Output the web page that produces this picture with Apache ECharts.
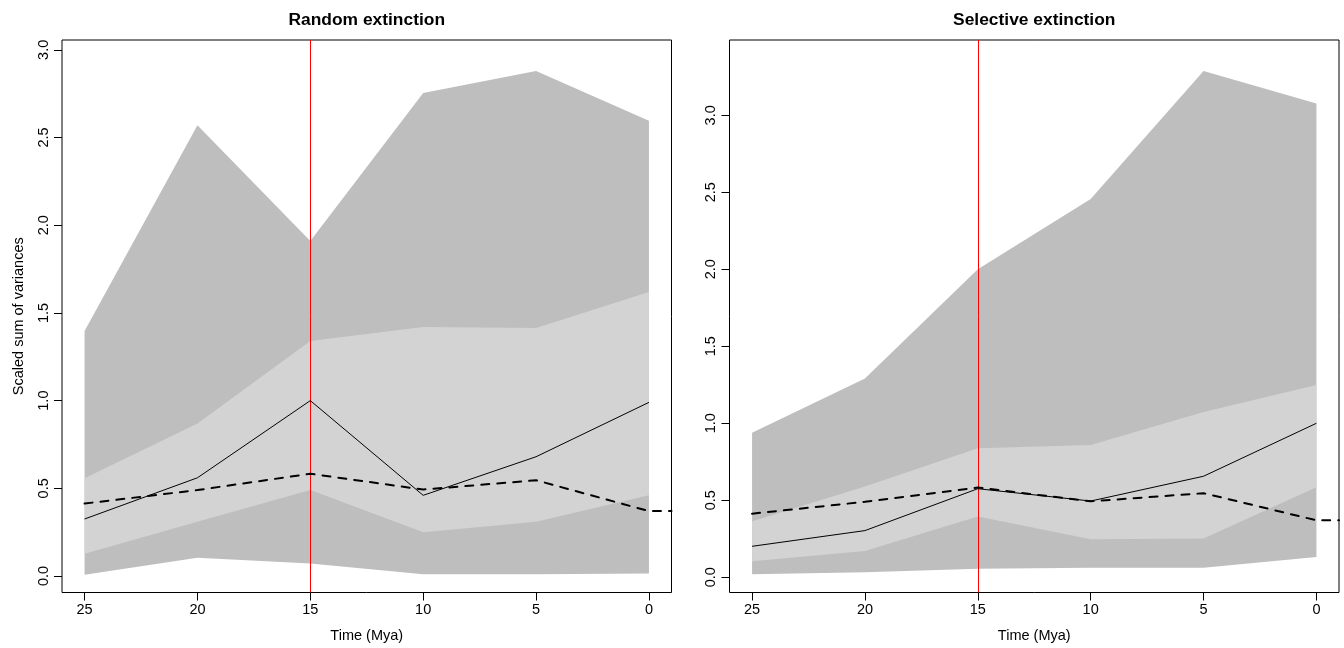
<!DOCTYPE html>
<html><head><meta charset="utf-8">
<script src="https://cdn.jsdelivr.net/npm/echarts@6/dist/echarts.min.js"></script>
<style>html,body{margin:0;padding:0;background:#fff}#c{width:1344px;height:648px}</style>
</head><body><div id="c"></div><script>
// ---- data ----
const times = [25, 20, 15, 10, 5, 0];
const timeTicks = [25, 20, 15, 10, 5, 0];
const yTicks = [0, 0.5, 1, 1.5, 2, 2.5, 3];
const panelTitles = ['Random extinction', 'Selective extinction'];
const xTitle = 'Time (Mya)';
const yTitle = 'Scaled sum of variances';
const extinctionTime = 15;

const randomOuterLow  = [0.007, 0.104, 0.072, 0.010, 0.010, 0.015];
const randomOuterHigh = [1.397, 2.570, 1.910, 2.754, 2.879, 2.596];
const randomInnerLow  = [0.127, 0.310, 0.490, 0.250, 0.310, 0.460];
const randomInnerHigh = [0.557, 0.870, 1.340, 1.420, 1.414, 1.619];
const randomObserved  = [0.325, 0.560, 1.000, 0.460, 0.680, 0.990];

const selectiveOuterLow  = [0.019, 0.032, 0.056, 0.062, 0.062, 0.132];
const selectiveOuterHigh = [0.939, 1.290, 2.000, 2.457, 3.288, 3.076];
const selectiveInnerLow  = [0.104, 0.171, 0.394, 0.247, 0.251, 0.584];
const selectiveInnerHigh = [0.364, 0.589, 0.838, 0.859, 1.073, 1.249];
const selectiveObserved  = [0.201, 0.303, 0.575, 0.495, 0.656, 1.000];

const expectedTimes  = [25, 20, 15, 10, 5, 0, -1];
const expectedValues = [0.413, 0.490, 0.583, 0.493, 0.546, 0.370, 0.370];

// ---- layout / style ----
const FONT = 'Liberation Sans, Arial, Helvetica, sans-serif';
const grids = [
  {left: 62, top: 40, width: 609.5, height: 552.5},
  {left: 729.5, top: 40, width: 609.5, height: 552.5}
];
const yRanges = [[-0.094, 3.056], [-0.099, 3.489]];
const DARK = '#bebebe', LIGHT = '#d3d3d3';

function bandSeries(g, lo, hi, color) {
  return {
    type: 'custom', xAxisIndex: g, yAxisIndex: g, z: 1, silent: true,
    data: times.map((t, i) => [t, lo[i], hi[i]]),
    encode: {x: 0, y: [1, 2]},
    renderItem: (params, api) => {
      if (params.dataIndex !== 0) return null;
      const pts = [];
      for (let i = 0; i < times.length; i++) pts.push(api.coord([times[i], hi[i]]));
      for (let i = times.length - 1; i >= 0; i--) pts.push(api.coord([times[i], lo[i]]));
      return {type: 'polygon', shape: {points: pts}, style: {fill: color, lineWidth: 0}};
    }
  };
}
function observedSeries(g, vals) {
  return {
    type: 'line', xAxisIndex: g, yAxisIndex: g, z: 4, silent: true,
    data: times.map((t, i) => [t, vals[i]]), showSymbol: false, symbol: 'none',
    lineStyle: {color: '#000', width: 1},
    markLine: {
      silent: true, symbol: ['none', 'none'], label: {show: false}, z: 3,
      lineStyle: {color: '#ff0000', width: 1, type: 'solid'},
      emphasis: {disabled: true},
      data: [{xAxis: extinctionTime}]
    }
  };
}
function expectedSeries(g) {
  return {
    type: 'line', xAxisIndex: g, yAxisIndex: g, z: 5, silent: true,
    data: expectedTimes.map((t, i) => [t, expectedValues[i]]), showSymbol: false, symbol: 'none',
    lineStyle: {color: '#000', width: 2, type: [8, 8], cap: 'round'}
  };
}
function xAxis(g) {
  return {
    type: 'value', gridIndex: g, min: -1, max: 26, inverse: true, position: 'bottom',
    name: xTitle, nameLocation: 'middle', nameGap: 36,
    nameTextStyle: {color: '#000', fontSize: 14.5, fontFamily: FONT},
    axisLine: {show: false, onZero: false}, splitLine: {show: false},
    axisTick: {show: true, inside: false, length: 8, lineStyle: {color: '#000', width: 1}, customValues: timeTicks},
    axisLabel: {show: true, margin: 10, color: '#000', fontSize: 14.5, fontFamily: FONT,
      customValues: timeTicks, formatter: v => String(v)}
  };
}
function yAxis(g) {
  const ax = {
    type: 'value', gridIndex: g, min: yRanges[g][0], max: yRanges[g][1], position: 'left',
    axisLine: {show: false, onZero: false}, splitLine: {show: false},
    axisTick: {show: true, inside: false, length: 8, lineStyle: {color: '#000', width: 1}, customValues: yTicks},
    axisLabel: {show: true, margin: 11, rotate: 90, color: '#000', fontSize: 14.5, fontFamily: FONT,
      customValues: yTicks, formatter: v => v.toFixed(1)}
  };
  if (g === 0) {
    ax.name = yTitle; ax.nameLocation = 'middle'; ax.nameGap = 36; ax.nameRotate = 90;
    ax.nameTextStyle = {color: '#000', fontSize: 14.5, fontFamily: FONT};
  }
  return ax;
}

const chart = echarts.init(document.getElementById('c'), null, {renderer: 'canvas'});
chart.setOption({
  animation: false,
  backgroundColor: '#fff',
  grid: grids.map(gr => Object.assign({show: true, borderColor: '#000', borderWidth: 1,
    backgroundColor: 'transparent', containLabel: false, outerBoundsMode: 'none'}, gr)),
  xAxis: [xAxis(0), xAxis(1)],
  yAxis: [yAxis(0), yAxis(1)],
  graphic: panelTitles.map((t, g) => ({
    type: 'text', x: grids[g].left + grids[g].width / 2, y: 20, z: 10,
    style: {text: t, fill: '#000', font: 'bold 17.4px ' + FONT, textAlign: 'center', textVerticalAlign: 'middle'}
  })),
  series: [
    bandSeries(0, randomOuterLow, randomOuterHigh, DARK),
    bandSeries(0, randomInnerLow, randomInnerHigh, LIGHT),
    observedSeries(0, randomObserved),
    expectedSeries(0),
    bandSeries(1, selectiveOuterLow, selectiveOuterHigh, DARK),
    bandSeries(1, selectiveInnerLow, selectiveInnerHigh, LIGHT),
    observedSeries(1, selectiveObserved),
    expectedSeries(1)
  ]
});
</script></body></html>
